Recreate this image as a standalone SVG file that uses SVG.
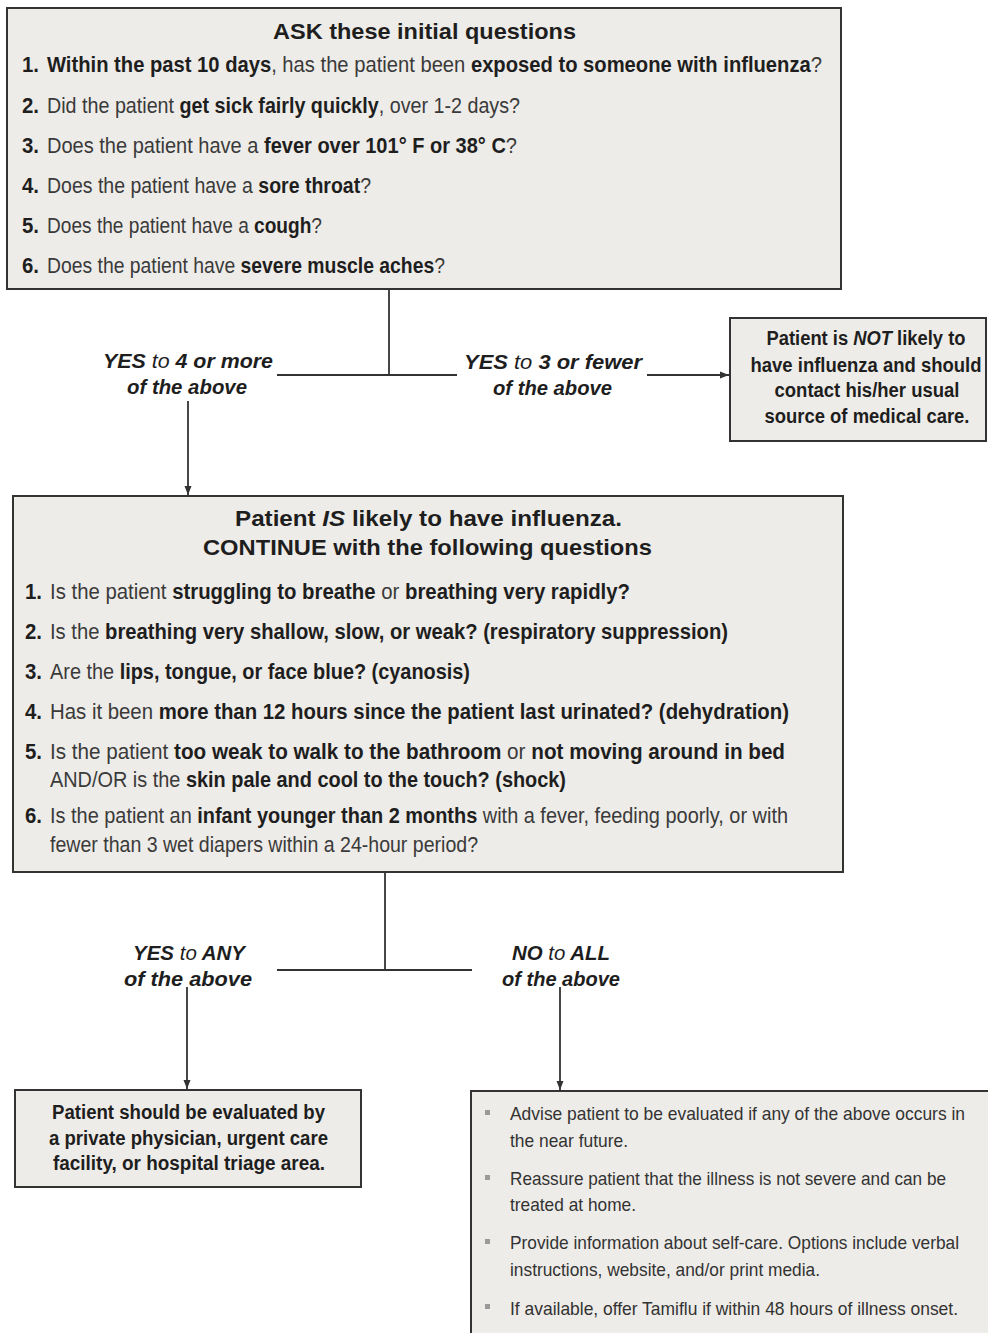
<svg xmlns="http://www.w3.org/2000/svg" width="988" height="1333" viewBox="0 0 988 1333">
<style>
.box{fill:#eeece8;stroke:#333;stroke-width:2}
.t{font-family:"Liberation Sans",Arial,sans-serif;fill:#3a3a3a;font-size:22px}
.b{font-weight:bold;fill:#1e1e1e}
.n{font-family:"Liberation Sans",Arial,sans-serif;font-weight:bold;fill:#1e1e1e;font-size:22px}
.h{font-family:"Liberation Sans",Arial,sans-serif;font-weight:bold;fill:#1e1e1e;font-size:22px;text-anchor:middle}
.c{font-family:"Liberation Sans",Arial,sans-serif;font-weight:bold;fill:#1e1e1e;font-size:20px;text-anchor:middle}
.lb{font-family:"Liberation Sans",Arial,sans-serif;font-weight:bold;font-style:italic;fill:#1e1e1e;font-size:21px}
.lt{font-weight:normal}
.r{font-family:"Liberation Sans",Arial,sans-serif;fill:#333;font-size:19px}
.bul{fill:#9a9a9a}
.ln{stroke:#333;stroke-width:1.8;fill:none}
</style>
<defs>
<marker id="ah" markerUnits="userSpaceOnUse" markerWidth="10" markerHeight="8" refX="9" refY="4" orient="auto">
<path d="M0,0.5 L9,4 L0,7.5 z" fill="#333"/>
</marker>
</defs>
<rect width="988" height="1333" fill="#fff"/>

<g id="connectors">
<line class="ln" x1="389" y1="289" x2="389" y2="375"/>
<line class="ln" x1="277" y1="375" x2="457" y2="375"/>
<line class="ln" x1="647" y1="375" x2="729" y2="375" marker-end="url(#ah)"/>
<line class="ln" x1="188" y1="401" x2="188" y2="495" marker-end="url(#ah)"/>
<line class="ln" x1="385" y1="872" x2="385" y2="970"/>
<line class="ln" x1="277" y1="970" x2="472" y2="970"/>
<line class="ln" x1="187" y1="987" x2="187" y2="1089" marker-end="url(#ah)"/>
<line class="ln" x1="560" y1="987" x2="560" y2="1090" marker-end="url(#ah)"/>
<text class="lb" x="103" y="368" textLength="170" lengthAdjust="spacingAndGlyphs">YES <tspan class="lt">to</tspan> 4 or more</text>
<text class="lb" x="127" y="394" textLength="120" lengthAdjust="spacingAndGlyphs">of the above</text>
<text class="lb" x="464" y="369" textLength="178" lengthAdjust="spacingAndGlyphs">YES <tspan class="lt">to</tspan> 3 or fewer</text>
<text class="lb" x="493" y="395" textLength="119" lengthAdjust="spacingAndGlyphs">of the above</text>
<text class="lb" x="133" y="960" textLength="112" lengthAdjust="spacingAndGlyphs">YES <tspan class="lt">to</tspan> ANY</text>
<text class="lb" x="124" y="986" textLength="128" lengthAdjust="spacingAndGlyphs">of the above</text>
<text class="lb" x="512" y="960" textLength="98" lengthAdjust="spacingAndGlyphs">NO <tspan class="lt">to</tspan> ALL</text>
<text class="lb" x="502" y="986" textLength="118" lengthAdjust="spacingAndGlyphs">of the above</text>
</g>

<g id="initial-questions">
<rect class="box" x="7" y="8" width="834" height="281"/>
<text class="h" x="424.5" y="39" textLength="303" lengthAdjust="spacingAndGlyphs">ASK these initial questions</text>
<text class="n" x="22" y="72" textLength="17" lengthAdjust="spacingAndGlyphs">1.</text>
<text class="t" x="47" y="72" textLength="775" lengthAdjust="spacingAndGlyphs"><tspan class="b">Within the past 10 days</tspan>, has the patient been <tspan class="b">exposed to someone with influenza</tspan>?</text>
<text class="n" x="22" y="113" textLength="17" lengthAdjust="spacingAndGlyphs">2.</text>
<text class="t" x="47" y="113" textLength="473" lengthAdjust="spacingAndGlyphs">Did the patient <tspan class="b">get sick fairly quickly</tspan>, over 1-2 days?</text>
<text class="n" x="22" y="153" textLength="17" lengthAdjust="spacingAndGlyphs">3.</text>
<text class="t" x="47" y="153" textLength="470" lengthAdjust="spacingAndGlyphs">Does the patient have a <tspan class="b">fever over 101° F or 38° C</tspan>?</text>
<text class="n" x="22" y="193" textLength="17" lengthAdjust="spacingAndGlyphs">4.</text>
<text class="t" x="47" y="193" textLength="324" lengthAdjust="spacingAndGlyphs">Does the patient have a <tspan class="b">sore throat</tspan>?</text>
<text class="n" x="22" y="233" textLength="17" lengthAdjust="spacingAndGlyphs">5.</text>
<text class="t" x="47" y="233" textLength="275" lengthAdjust="spacingAndGlyphs">Does the patient have a <tspan class="b">cough</tspan>?</text>
<text class="n" x="22" y="273" textLength="17" lengthAdjust="spacingAndGlyphs">6.</text>
<text class="t" x="47" y="273" textLength="398" lengthAdjust="spacingAndGlyphs">Does the patient have <tspan class="b">severe muscle aches</tspan>?</text>
</g>

<g id="not-likely">
<rect class="box" x="730" y="318" width="256" height="123"/>
<text class="c" x="866" y="345" textLength="199" lengthAdjust="spacingAndGlyphs">Patient is <tspan font-style="italic">NOT</tspan> likely to</text>
<text class="c" x="866" y="372" textLength="231" lengthAdjust="spacingAndGlyphs">have influenza and should</text>
<text class="c" x="867" y="397" textLength="185" lengthAdjust="spacingAndGlyphs">contact his/her usual</text>
<text class="c" x="867" y="423" textLength="205" lengthAdjust="spacingAndGlyphs">source of medical care.</text>
</g>

<g id="likely-continue">
<rect class="box" x="13" y="496" width="830" height="376"/>
<text class="h" x="428.5" y="526" textLength="387" lengthAdjust="spacingAndGlyphs">Patient <tspan font-style="italic">IS</tspan> likely to have influenza.</text>
<text class="h" x="427.5" y="555" textLength="449" lengthAdjust="spacingAndGlyphs">CONTINUE with the following questions</text>
<text class="n" x="25" y="599" textLength="17" lengthAdjust="spacingAndGlyphs">1.</text>
<text class="t" x="50" y="599" textLength="580" lengthAdjust="spacingAndGlyphs">Is the patient <tspan class="b">struggling to breathe</tspan> or <tspan class="b">breathing very rapidly?</tspan></text>
<text class="n" x="25" y="639" textLength="17" lengthAdjust="spacingAndGlyphs">2.</text>
<text class="t" x="50" y="639" textLength="678" lengthAdjust="spacingAndGlyphs">Is the <tspan class="b">breathing very shallow, slow, or weak? (respiratory suppression)</tspan></text>
<text class="n" x="25" y="679" textLength="17" lengthAdjust="spacingAndGlyphs">3.</text>
<text class="t" x="50" y="679" textLength="420" lengthAdjust="spacingAndGlyphs">Are the <tspan class="b">lips, tongue, or face blue? (cyanosis)</tspan></text>
<text class="n" x="25" y="719" textLength="17" lengthAdjust="spacingAndGlyphs">4.</text>
<text class="t" x="50" y="719" textLength="739" lengthAdjust="spacingAndGlyphs">Has it been <tspan class="b">more than 12 hours since the patient last urinated? (dehydration)</tspan></text>
<text class="n" x="25" y="759" textLength="17" lengthAdjust="spacingAndGlyphs">5.</text>
<text class="t" x="50" y="759" textLength="735" lengthAdjust="spacingAndGlyphs">Is the patient <tspan class="b">too weak to walk to the bathroom</tspan> or <tspan class="b">not moving around in bed</tspan></text>
<text class="t" x="50" y="787" textLength="516" lengthAdjust="spacingAndGlyphs">AND/OR is the <tspan class="b">skin pale and cool to the touch? (shock)</tspan></text>
<text class="n" x="25" y="823" textLength="17" lengthAdjust="spacingAndGlyphs">6.</text>
<text class="t" x="50" y="823" textLength="738" lengthAdjust="spacingAndGlyphs">Is the patient an <tspan class="b">infant younger than 2 months</tspan> with a fever, feeding poorly, or with</text>
<text class="t" x="50" y="852" textLength="428" lengthAdjust="spacingAndGlyphs">fewer than 3 wet diapers within a 24-hour period?</text>
</g>

<g id="evaluate">
<rect class="box" x="15" y="1090" width="346" height="97"/>
<text class="c" x="188.5" y="1119" textLength="273" lengthAdjust="spacingAndGlyphs">Patient should be evaluated by</text>
<text class="c" x="188.5" y="1145" textLength="279" lengthAdjust="spacingAndGlyphs">a private physician, urgent care</text>
<text class="c" x="189" y="1170" textLength="272" lengthAdjust="spacingAndGlyphs">facility, or hospital triage area.</text>
</g>

<g id="self-care">
<rect class="box" x="471" y="1091" width="540" height="270"/>
<rect class="bul" x="485" y="1110" width="5" height="5"/>
<text class="r" x="510" y="1120" textLength="455" lengthAdjust="spacingAndGlyphs">Advise patient to be evaluated if any of the above occurs in</text>
<text class="r" x="510" y="1147" textLength="118" lengthAdjust="spacingAndGlyphs">the near future.</text>
<rect class="bul" x="485" y="1175" width="5" height="5"/>
<text class="r" x="510" y="1185" textLength="436" lengthAdjust="spacingAndGlyphs">Reassure patient that the illness is not severe and can be</text>
<text class="r" x="510" y="1211" textLength="126" lengthAdjust="spacingAndGlyphs">treated at home.</text>
<rect class="bul" x="485" y="1239" width="5" height="5"/>
<text class="r" x="510" y="1249" textLength="449" lengthAdjust="spacingAndGlyphs">Provide information about self-care. Options include verbal</text>
<text class="r" x="510" y="1276" textLength="310" lengthAdjust="spacingAndGlyphs">instructions, website, and/or print media.</text>
<rect class="bul" x="485" y="1304" width="5" height="5"/>
<text class="r" x="510" y="1315" textLength="448" lengthAdjust="spacingAndGlyphs">If available, offer Tamiflu if within 48 hours of illness onset.</text>
</g>
</svg>
